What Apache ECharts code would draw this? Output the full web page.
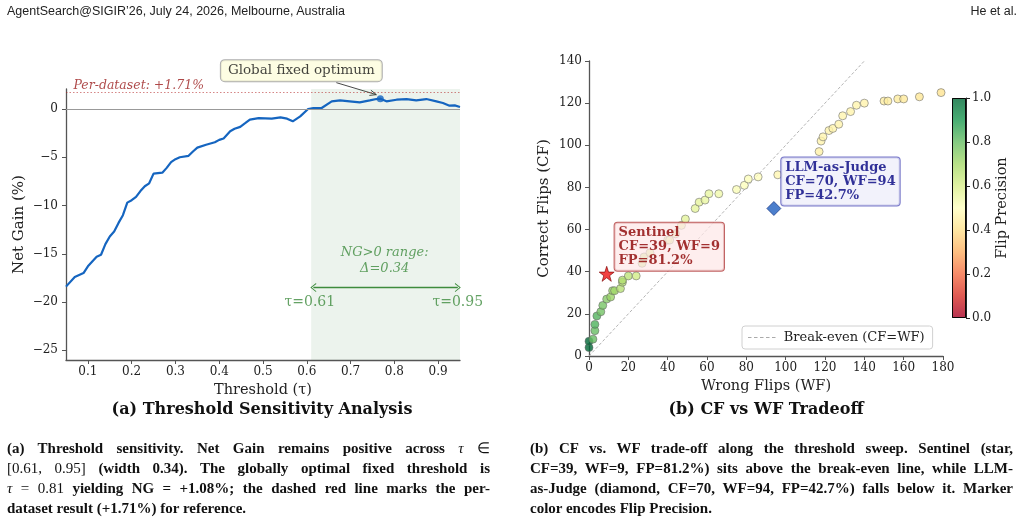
<!DOCTYPE html>
<html>
<head>
<meta charset="utf-8">
<script src="https://cdn.jsdelivr.net/npm/echarts@6/dist/echarts.min.js"></script>
<style>
html, body { margin: 0; padding: 0; background: #fff; }
#page { position: relative; width: 1024px; height: 522px; overflow: hidden; }
#chart { position: absolute; left: 0; top: 0; width: 1024px; height: 522px; }
.hdr { position: absolute; top: 4px; font: 12.5px "Liberation Sans", sans-serif; color: #222; }
.cap { position: absolute; top: 438px; width: 483px; font: bold 15px/20px "Liberation Serif", serif; color: #111; }
.cap div { height: 20px; white-space: nowrap; text-align: justify; text-align-last: justify; }
.cap div.last { text-align-last: left; }
.cap .m { font-weight: normal; }
</style>
</head>
<body>
<div id="page">
	<div id="chart"></div>
	<div class="hdr" style="left:7px">AgentSearch@SIGIR’26, July 24, 2026, Melbourne, Australia</div>
	<div class="hdr" style="right:7px">He et al.</div>
	<div class="cap" style="left:7px">
		<div>(a) Threshold sensitivity. Net Gain remains positive across <span class="m"><i>τ</i> ∈</span></div>
		<div><span class="m">[0.61, 0.95]</span> (width 0.34). The globally optimal fixed threshold is</div>
		<div><span class="m"><i>τ</i> = 0.81</span> yielding NG = +1.08%; the dashed red line marks the per-</div>
		<div class="last">dataset result (+1.71%) for reference.</div>
	</div>
	<div class="cap" style="left:530px">
		<div>(b) CF vs. WF trade-off along the threshold sweep. Sentinel (star,</div>
		<div>CF=39, WF=9, FP=81.2%) sits above the break-even line, while LLM-</div>
		<div>as-Judge (diamond, CF=70, WF=94, FP=42.7%) falls below it. Marker</div>
		<div class="last">color encodes Flip Precision.</div>
	</div>
</div>
<script>
// (a) threshold sweep
var thresholds = [0.05, 0.07, 0.09, 0.10, 0.11, 0.12, 0.13, 0.14, 0.15, 0.16,
	0.17, 0.18, 0.19, 0.20, 0.21, 0.22, 0.23, 0.24, 0.25, 0.27,
	0.28, 0.29, 0.30, 0.31, 0.33, 0.34, 0.35, 0.37, 0.39, 0.40,
	0.41, 0.425, 0.435, 0.448, 0.46, 0.47, 0.49, 0.52, 0.54, 0.555,
	0.568, 0.585, 0.603, 0.615, 0.634, 0.657, 0.676, 0.698, 0.721, 0.744,
	0.759, 0.768, 0.782, 0.805, 0.828, 0.85, 0.873, 0.896, 0.911, 0.926,
	0.938, 0.95];
var netGain = [-18.4, -17.4, -17.0, -16.3, -15.8, -15.3, -15.1, -14.0, -13.2, -12.7,
	-11.8, -11.0, -9.7, -9.45, -9.1, -8.5, -8.0, -7.7, -6.7, -6.6,
	-6.1, -5.5, -5.2, -5.0, -4.85, -4.4, -4.0, -3.7, -3.45, -3.2,
	-3.05, -2.3, -2.05, -1.85, -1.45, -1.1, -0.94, -1.0, -0.87, -1.0,
	-1.28, -0.76, 0.0, 0.1, 0.1, 0.79, 0.89, 0.79, 0.68, 0.89,
	1.03, 1.07, 0.79, 0.96, 1.03, 0.89, 1.03, 0.79, 0.62, 0.34,
	0.37, 0.21];
var optimum = [0.768, 1.07];
var perDataset = 1.71;
var positiveRange = [0.61, 0.95];
var thresholdTicks = [0.1, 0.2, 0.3, 0.4, 0.5, 0.6, 0.7, 0.8, 0.9];
var gainTicks = [-25, -20, -15, -10, -5, 0];

// (b) CF vs WF along the sweep
var wrongFlips = [0, 0, 2, 3, 3, 4, 6, 7, 9, 11, 12, 13, 16, 17, 17, 20, 24, 27, 28, 31,
	40, 41, 44, 47, 49, 54, 56, 59, 61, 66, 75, 79, 81, 86, 96, 117, 118, 119, 122, 124,
	127, 129, 133, 136, 140, 150, 152, 157, 160, 168, 179];
var correctFlips = [4, 7, 8, 12, 15, 19, 21, 24, 27, 28, 31, 31, 32, 35, 36, 38, 38, 44, 47, 49,
	55, 55, 58, 62, 65, 70, 73, 74, 77, 77, 79, 81, 84, 85, 86, 97, 102, 104, 107, 108,
	110, 114, 116, 119, 120, 121, 121, 122, 122, 123, 125];
var sentinel = [9, 39];
var llmJudge = [94, 70];
var breakEven = [[0, 0], [140, 140]];
var rdYlGn = ['#a50026', '#d73027', '#f46d43', '#fdae61', '#fee08b', '#ffffbf',
	'#d9ef8b', '#a6d96a', '#66bd63', '#1a9850', '#006837'];

var SERIF = '"DejaVu Serif", serif';
var SPINE = '#555';
var GREEN = '#3d8b3d';
var STAR = 'path://M50,0 L61.8,35.1 L98.1,35.1 L68.8,56.7 L79.4,90.9 L50,69.1 L20.6,90.9 L31.2,56.7 L1.9,35.1 L38.2,35.1 Z';
var CHEVRON = 'path://M0,10 L5,0 L10,10 L9,10.6 L5,2.4 L1,10.6 Z';
var DASHES = 'path://M0,0h3.5v1h-3.5z M6,0h3.5v1h-3.5z M12,0h3.5v1h-3.5z M18,0h3.5v1h-3.5z M24,0h3.5v1h-3.5z';

var ngPairs = thresholds.map(function(t, i) { return [t, netGain[i]]; });
var sweep = wrongFlips.map(function(wf, i) {
	var cf = correctFlips[i];
	return [wf, cf, cf / (cf + wf)];
});

function minus(v) {
	return v < 0 ? '\u2212' + Math.abs(v) : String(v);
}

function valueAxis(gridIndex, extra) {
	var axis = {
		type: 'value',
		gridIndex: gridIndex,
		nameLocation: 'middle',
		nameTextStyle: { fontFamily: SERIF, fontSize: 14.5, color: '#222' },
		axisLine: { show: true, onZero: false, lineStyle: { color: SPINE, width: 1.3 } },
		axisTick: { show: true, length: 4, lineStyle: { color: SPINE, width: 1 } },
		axisLabel: { fontFamily: SERIF, fontSize: 12, color: '#222', margin: 7 },
		splitLine: { show: false }
	};
	for (var k in extra) {
		if (typeof extra[k] == 'object' && axis[k] && !Array.isArray(extra[k])) {
			axis[k] = Object.assign({}, axis[k], extra[k]);
		} else {
			axis[k] = extra[k];
		}
	}
	return axis;
}

function boxLabel(text, bg, border, color) {
	return {
		show: true,
		formatter: text,
		position: 'right',
		distance: 0,
		offset: [0, -27],
		backgroundColor: bg,
		borderColor: border,
		borderWidth: 1,
		borderRadius: 3,
		padding: [3, 4, 2, 4],
		fontFamily: SERIF,
		fontWeight: 'bold',
		fontSize: 13,
		lineHeight: 14.3,
		color: color
	};
}

var chart = echarts.init(document.getElementById('chart'));

chart.setOption({
	animation: false,
	grid: [
		{ left: 66, top: 89, width: 394, height: 271 },
		{ left: 589, top: 61, width: 354, height: 295 },
		{ left: 952, top: 98, width: 14, height: 220 }
	],
	xAxis: [
		valueAxis(0, {
			min: 0.05, max: 0.95,
			name: 'Threshold (τ)', nameGap: 20,
			axisTick: { customValues: thresholdTicks },
			axisLabel: { customValues: thresholdTicks, margin: 6, formatter: function(v) { return v.toFixed(1); } }
		}),
		valueAxis(1, {
			min: 0, max: 180, interval: 20,
			name: 'Wrong Flips (WF)', nameGap: 21,
			axisLabel: { margin: 6 }
		}),
		{ type: 'category', gridIndex: 2, data: ['FP'], show: false }
	],
	yAxis: [
		valueAxis(0, {
			min: -26, max: 2.07,
			name: 'Net Gain (%)', nameGap: 39, nameTextStyle: { fontSize: 15 },
			axisTick: { customValues: gainTicks },
			axisLabel: { customValues: gainTicks, margin: 8, formatter: minus }
		}),
		valueAxis(1, {
			min: 0, max: 140, interval: 20,
			name: 'Correct Flips (CF)', nameGap: 37, nameTextStyle: { fontSize: 15 }
		}),
		valueAxis(2, {
			min: 0, max: 1, interval: 0.2, position: 'right',
			name: 'Flip Precision', nameGap: 27,
			axisLine: { lineStyle: { color: '#222', width: 1 } },
			axisTick: { lineStyle: { color: '#222' } },
			axisLabel: { margin: 6, formatter: function(v) { return v.toFixed(1); } }
		})
	],
	visualMap: {
		show: false,
		type: 'continuous',
		seriesIndex: 4,
		dimension: 2,
		min: 0,
		max: 1,
		inRange: { color: rdYlGn }
	},
	legend: {
		data: [{ name: 'Break-even (CF=WF)', icon: DASHES, itemStyle: { color: '#aaa' } }],
		left: 742,
		top: 326,
		padding: [5, 8, 5, 6],
		backgroundColor: '#fff',
		borderColor: '#d0d0d0',
		borderWidth: 1,
		borderRadius: 3,
		itemWidth: 28,
		itemHeight: 1,
		textStyle: { fontFamily: SERIF, fontSize: 13, color: '#222', lineHeight: 13, padding: [0, 0, 0, 3] }
	},
	series: [
		{
			name: 'Net Gain',
			type: 'line',
			xAxisIndex: 0,
			yAxisIndex: 0,
			data: ngPairs,
			showSymbol: false,
			lineStyle: { color: '#1565c0', width: 2.2 },
			itemStyle: { color: '#1565c0' },
			z: 4,
			markArea: {
				silent: true,
				itemStyle: { color: 'rgba(46,125,50,0.09)' },
				data: [[{ xAxis: positiveRange[0] }, { xAxis: positiveRange[1] }]]
			},
			markLine: {
				silent: true,
				symbol: 'none',
				label: { show: false },
				data: [
					{ yAxis: 0, lineStyle: { color: '#999', width: 1, type: 'solid' } },
					{ yAxis: perDataset, lineStyle: { color: 'rgba(178,34,34,0.55)', width: 1, type: [1.5, 2] } }
				]
			}
		},
		{
			name: 'Optimum',
			type: 'scatter',
			xAxisIndex: 0,
			yAxisIndex: 0,
			data: [optimum],
			symbolSize: 7,
			itemStyle: { color: '#1565c0' },
			z: 5,
			label: {
				show: true,
				formatter: 'Global fixed optimum',
				position: 'inside',
				offset: [-79, -28],
				backgroundColor: '#fdfcdc',
				borderColor: '#999',
				borderWidth: 1,
				borderRadius: 4,
				padding: [4, 7, 3, 7],
				fontFamily: SERIF,
				fontSize: 13.5,
				color: '#111'
			}
		},
		{
			name: 'Notes',
			type: 'scatter',
			xAxisIndex: 0,
			yAxisIndex: 0,
			symbolSize: 0,
			silent: true,
			data: [
				{ name: 'Per-dataset: +1.71%', value: [0.067, perDataset],
					label: { position: 'right', distance: 0, offset: [0, -7], color: '#9a1a1a', fontStyle: 'italic', fontSize: 12.5 } },
				{ name: 'NG>0 range:\nΔ=0.34', value: [0.778, -15.7],
					label: { position: 'inside', color: GREEN, fontStyle: 'italic', fontSize: 13, lineHeight: 16 } },
				{ name: 'τ=0.61', value: [0.607, -20],
					label: { position: 'inside', color: GREEN, fontSize: 14 } },
				{ name: 'τ=0.95', value: [0.945, -20],
					label: { position: 'inside', color: GREEN, fontSize: 14 } }
			],
			label: { show: true, formatter: '{b}', fontFamily: SERIF },
			markLine: {
				silent: true,
				symbol: [CHEVRON, CHEVRON],
				symbolSize: [9, 6],
				label: { show: false },
				lineStyle: { color: GREEN, width: 1.3, type: 'solid' },
				data: [[{ coord: [0.615, -18.5] }, { coord: [0.945, -18.5] }]]
			}
		},
		{
			name: 'Break-even (CF=WF)',
			type: 'line',
			xAxisIndex: 1,
			yAxisIndex: 1,
			data: breakEven,
			symbol: 'none',
			silent: true,
			lineStyle: { color: '#aaa', width: 0.9, type: [3, 2] },
			itemStyle: { color: '#aaa' }
		},
		{
			name: 'Sweep',
			type: 'scatter',
			xAxisIndex: 1,
			yAxisIndex: 1,
			data: sweep,
			symbolSize: 8,
			itemStyle: { opacity: 0.8, borderColor: '#666', borderWidth: 0.7 },
			z: 3
		},
		{
			name: 'Sentinel',
			type: 'scatter',
			xAxisIndex: 1,
			yAxisIndex: 1,
			data: [sentinel],
			symbol: STAR,
			symbolSize: 15,
			itemStyle: { color: '#ee1111', borderColor: '#7a0000', borderWidth: 0.8 },
			z: 6,
			label: boxLabel('Sentinel\nCF=39, WF=9\nFP=81.2%', 'rgba(253,232,232,0.9)', '#b03a3a', '#8b0000')
		},
		{
			name: 'LLM-as-Judge',
			type: 'scatter',
			xAxisIndex: 1,
			yAxisIndex: 1,
			data: [llmJudge],
			symbol: 'diamond',
			symbolSize: 14,
			itemStyle: { color: '#1f5fbf', borderColor: '#0d2a7a', borderWidth: 0.8 },
			z: 6,
			label: boxLabel('LLM-as-Judge\nCF=70, WF=94\nFP=42.7%', 'rgba(237,237,250,0.92)', '#5555bb', '#000080')
		},
		{
			name: 'Colorbar',
			type: 'bar',
			xAxisIndex: 2,
			yAxisIndex: 2,
			data: [1],
			barWidth: '100%',
			silent: true,
			itemStyle: {
				opacity: 0.8,
				borderColor: '#000',
				borderWidth: 1,
				color: new echarts.graphic.LinearGradient(0, 0, 0, 1, rdYlGn.slice().reverse().map(function(c, i) {
					return { offset: i / (rdYlGn.length - 1), color: c };
				}))
			}
		}
	]
});

// annotation arrow and panel titles
var p = chart.convertToPixel({ gridIndex: 0 }, optimum);
var a0 = [p[0] - 44, p[1] - 16], a1 = [p[0] - 4, p[1] - 4];
var ang = Math.atan2(a1[1] - a0[1], a1[0] - a0[0]);
function headPoint(d) {
	return [a1[0] - 7 * Math.cos(ang + d), a1[1] - 7 * Math.sin(ang + d)];
}
chart.setOption({
	graphic: [
		{ type: 'line', silent: true, shape: { x1: a0[0], y1: a0[1], x2: a1[0], y2: a1[1] }, style: { stroke: '#333', lineWidth: 0.9 } },
		{ type: 'polyline', silent: true, shape: { points: [headPoint(0.4), a1, headPoint(-0.4)] }, style: { stroke: '#333', lineWidth: 0.9, fill: null } },
		{ type: 'text', silent: true, x: 262, y: 410, style: { text: '(a) Threshold Sensitivity Analysis', font: 'bold 16px ' + SERIF, fill: '#111', textAlign: 'center', textVerticalAlign: 'middle' } },
		{ type: 'text', silent: true, x: 766, y: 410, style: { text: '(b) CF vs WF Tradeoff', font: 'bold 16px ' + SERIF, fill: '#111', textAlign: 'center', textVerticalAlign: 'middle' } }
	]
});
</script>
</body>
</html>
